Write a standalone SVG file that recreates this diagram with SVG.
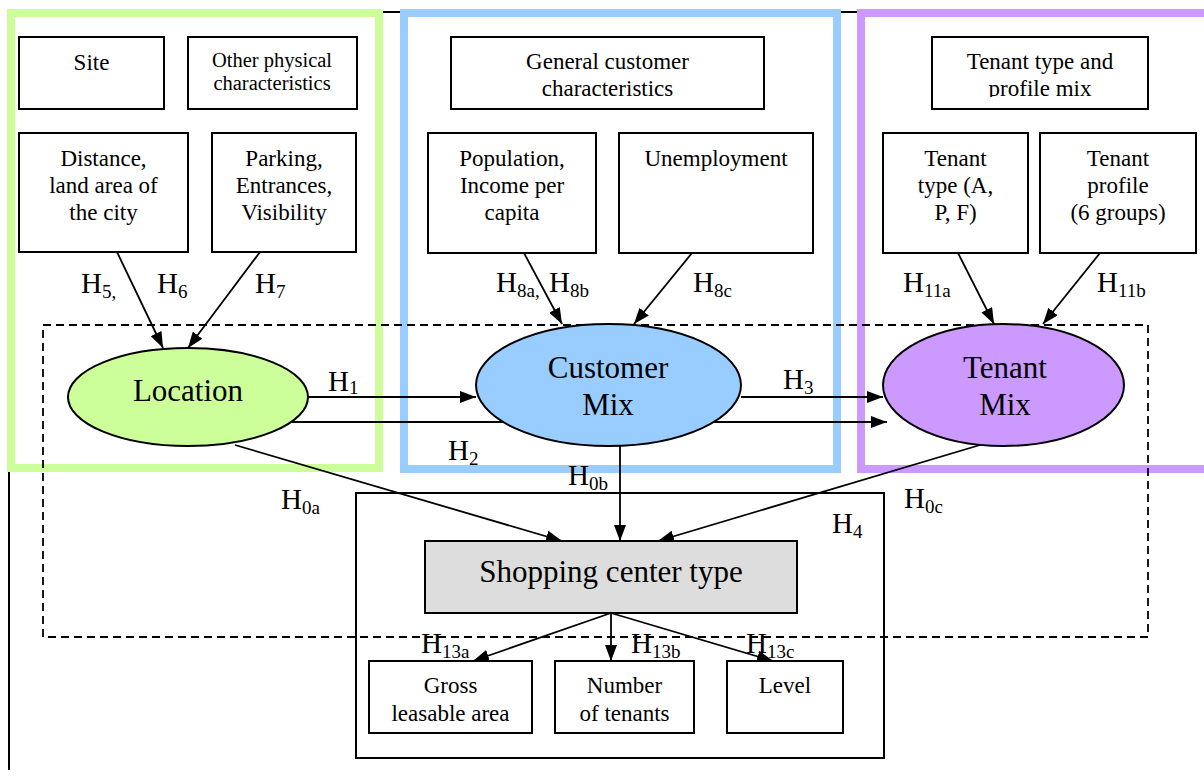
<svg xmlns="http://www.w3.org/2000/svg" width="1204" height="778" viewBox="0 0 1204 778">
  <style>
    text { font-family: 'Liberation Serif', 'Times New Roman', Times, 'DejaVu Serif', serif; fill: #000000; }
    .box { fill: #ffffff; stroke: #000000; stroke-width: 2; }
    .txt { font-size: 23px; text-anchor: middle; }
    .txt-sm { font-size: 20.5px; text-anchor: middle; }
    .big { font-size: 31px; text-anchor: middle; }
    .lbl { font-size: 29px; }
    .sub { font-size: 19px; }
    .arrow { stroke: #000000; stroke-width: 1.8; fill: none; marker-end: url(#head); }
    .frame { fill: none; stroke-width: 8; }
  </style>
  <defs>
    <marker id="head" viewBox="0 0 16 12" refX="16" refY="6" markerWidth="16" markerHeight="12" markerUnits="userSpaceOnUse" orient="auto">
      <path d="M0,0 L16,6 L0,12 Z" fill="#000000"/>
    </marker>
    <clipPath id="clipTenantMixBox">
      <rect x="932" y="37" width="216" height="60"/>
    </clipPath>
  </defs>

  <rect width="1204" height="778" fill="#ffffff"/>

  <!-- page border (left and top edges) -->
  <path d="M9,770 V12 H1204" fill="none" stroke="#000000" stroke-width="2"/>

  <!-- construct frames -->
  <g id="frames">
    <rect class="frame" x="11" y="13" width="368" height="455" stroke="#ccff99"/>
    <rect class="frame" x="404" y="13" width="433" height="456" stroke="#99ccff"/>
    <rect class="frame" x="861" y="13" width="360" height="456" stroke="#cc99ff"/>
  </g>

  <!-- moderation boundary and outcome frame -->
  <rect id="dashed-frame" x="43" y="325" width="1105" height="312" fill="none" stroke="#000000" stroke-width="1.8" stroke-dasharray="8,5"/>
  <rect id="h4-frame" x="356" y="493" width="528" height="265" fill="none" stroke="#000000" stroke-width="2"/>

  <!-- location drivers -->
  <g id="site">
    <rect class="box" x="19" y="37" width="145" height="72"/>
    <text class="txt" x="91.5" y="70">Site</text>
  </g>
  <g id="other-physical">
    <rect class="box" x="188" y="37" width="169" height="72"/>
    <text class="txt-sm" x="272" y="67">Other physical</text>
    <text class="txt-sm" x="272" y="90">characteristics</text>
  </g>
  <g id="distance">
    <rect class="box" x="19" y="133" width="169" height="119"/>
    <text class="txt" x="103.5" y="166">Distance,</text>
    <text class="txt" x="103.5" y="193">land area of</text>
    <text class="txt" x="103.5" y="220">the city</text>
  </g>
  <g id="parking">
    <rect class="box" x="212" y="133" width="144" height="119"/>
    <text class="txt" x="284" y="166">Parking,</text>
    <text class="txt" x="284" y="193">Entrances,</text>
    <text class="txt" x="284" y="220">Visibility</text>
  </g>

  <!-- customer drivers -->
  <g id="general-customer">
    <rect class="box" x="451" y="37" width="313" height="72"/>
    <text class="txt" x="607.5" y="69">General customer</text>
    <text class="txt" x="607.5" y="96">characteristics</text>
  </g>
  <g id="population">
    <rect class="box" x="428" y="133" width="168" height="120"/>
    <text class="txt" x="512" y="166">Population,</text>
    <text class="txt" x="512" y="193">Income per</text>
    <text class="txt" x="512" y="220">capita</text>
  </g>
  <g id="unemployment">
    <rect class="box" x="619" y="133" width="194" height="120"/>
    <text class="txt" x="716" y="166">Unemployment</text>
  </g>

  <!-- tenant drivers -->
  <g id="tenant-profile-mix">
    <rect class="box" x="932" y="37" width="216" height="72"/>
    <g clip-path="url(#clipTenantMixBox)">
      <text class="txt" x="1040" y="69">Tenant type and</text>
      <text class="txt" x="1040" y="96">profile mix</text>
    </g>
  </g>
  <g id="tenant-type">
    <rect class="box" x="883" y="133" width="145" height="120"/>
    <text class="txt" x="955.5" y="166">Tenant</text>
    <text class="txt" x="955.5" y="193">type (A,</text>
    <text class="txt" x="955.5" y="220">P, F)</text>
  </g>
  <g id="tenant-profile">
    <rect class="box" x="1040" y="133" width="156" height="120"/>
    <text class="txt" x="1118" y="166">Tenant</text>
    <text class="txt" x="1118" y="193">profile</text>
    <text class="txt" x="1118" y="220">(6 groups)</text>
  </g>

  <!-- connectors -->
  <g id="connectors">
    <line class="arrow" x1="117" y1="252" x2="163" y2="348"/>
    <line class="arrow" x1="260" y1="252" x2="188" y2="348"/>
    <line class="arrow" x1="524" y1="253" x2="562" y2="324"/>
    <line class="arrow" x1="692" y1="253" x2="634" y2="324"/>
    <line class="arrow" x1="958" y1="253" x2="994" y2="324"/>
    <line class="arrow" x1="1100" y1="253" x2="1043" y2="324"/>
    <line class="arrow" x1="308" y1="397" x2="476" y2="397"/>
    <line class="arrow" x1="292" y1="422" x2="887" y2="422"/>
    <line class="arrow" x1="741" y1="397" x2="883" y2="397"/>
    <line class="arrow" x1="235" y1="445" x2="562" y2="541"/>
    <line class="arrow" x1="620" y1="446" x2="620" y2="541"/>
    <line class="arrow" x1="980" y1="445" x2="658" y2="541"/>
    <line class="arrow" x1="611" y1="613" x2="473" y2="661"/>
    <line class="arrow" x1="611" y1="613" x2="611" y2="661"/>
    <line class="arrow" x1="611" y1="613" x2="773" y2="661"/>
  </g>

  <!-- constructs -->
  <g id="location">
    <ellipse cx="188" cy="397" rx="120" ry="49" fill="#ccff99" stroke="#000000" stroke-width="2"/>
    <text class="big" x="188" y="401">Location</text>
  </g>
  <g id="customer-mix">
    <ellipse cx="608.5" cy="385" rx="132.5" ry="61" fill="#99ccff" stroke="#000000" stroke-width="2"/>
    <text class="big" x="608" y="378">Customer</text>
    <text class="big" x="608" y="415">Mix</text>
  </g>
  <g id="tenant-mix">
    <ellipse cx="1003.5" cy="385" rx="120.5" ry="61" fill="#cc99ff" stroke="#000000" stroke-width="2"/>
    <text class="big" x="1005" y="378">Tenant</text>
    <text class="big" x="1005" y="415">Mix</text>
  </g>

  <g id="shopping-center-type">
    <rect x="425" y="541" width="372" height="72" fill="#dddddd" stroke="#000000" stroke-width="2"/>
    <text class="big" x="611" y="582">Shopping center type</text>
  </g>
  <g id="gross-leasable-area">
    <rect class="box" x="369" y="661" width="163" height="72"/>
    <text class="txt" x="450.5" y="693">Gross</text>
    <text class="txt" x="450.5" y="721">leasable area</text>
  </g>
  <g id="number-of-tenants">
    <rect class="box" x="555" y="661" width="139" height="72"/>
    <text class="txt" x="624.5" y="693">Number</text>
    <text class="txt" x="624.5" y="721">of tenants</text>
  </g>
  <g id="level">
    <rect class="box" x="727" y="661" width="116" height="72"/>
    <text class="txt" x="785" y="693">Level</text>
  </g>

  <!-- hypothesis labels -->
  <g id="labels">
    <text class="lbl" x="81" y="293">H<tspan class="sub" dy="5">5,</tspan></text>
    <text class="lbl" x="157" y="293">H<tspan class="sub" dy="5">6</tspan></text>
    <text class="lbl" x="255" y="293">H<tspan class="sub" dy="5">7</tspan></text>
    <text class="lbl" x="496" y="292">H<tspan class="sub" dy="5">8a,</tspan></text>
    <text class="lbl" x="549" y="292">H<tspan class="sub" dy="5">8b</tspan></text>
    <text class="lbl" x="693" y="292">H<tspan class="sub" dy="5">8c</tspan></text>
    <text class="lbl" x="903" y="292">H<tspan class="sub" dy="5">11a</tspan></text>
    <text class="lbl" x="1097" y="292">H<tspan class="sub" dy="5">11b</tspan></text>
    <text class="lbl" x="328" y="391">H<tspan class="sub" dy="3">1</tspan></text>
    <text class="lbl" x="783" y="389">H<tspan class="sub" dy="5">3</tspan></text>
    <text class="lbl" x="448" y="460">H<tspan class="sub" dy="5">2</tspan></text>
    <text class="lbl" x="568" y="485">H<tspan class="sub" dy="5">0b</tspan></text>
    <text class="lbl" x="281" y="509">H<tspan class="sub" dy="5">0a</tspan></text>
    <text class="lbl" x="904" y="508">H<tspan class="sub" dy="5">0c</tspan></text>
    <text class="lbl" x="832" y="533">H<tspan class="sub" dy="5">4</tspan></text>
    <text class="lbl" x="421" y="653">H<tspan class="sub" dy="5">13a</tspan></text>
    <text class="lbl" x="631" y="653">H<tspan class="sub" dy="5">13b</tspan></text>
    <text class="lbl" x="746" y="653">H<tspan class="sub" dy="5">13c</tspan></text>
  </g>
</svg>
